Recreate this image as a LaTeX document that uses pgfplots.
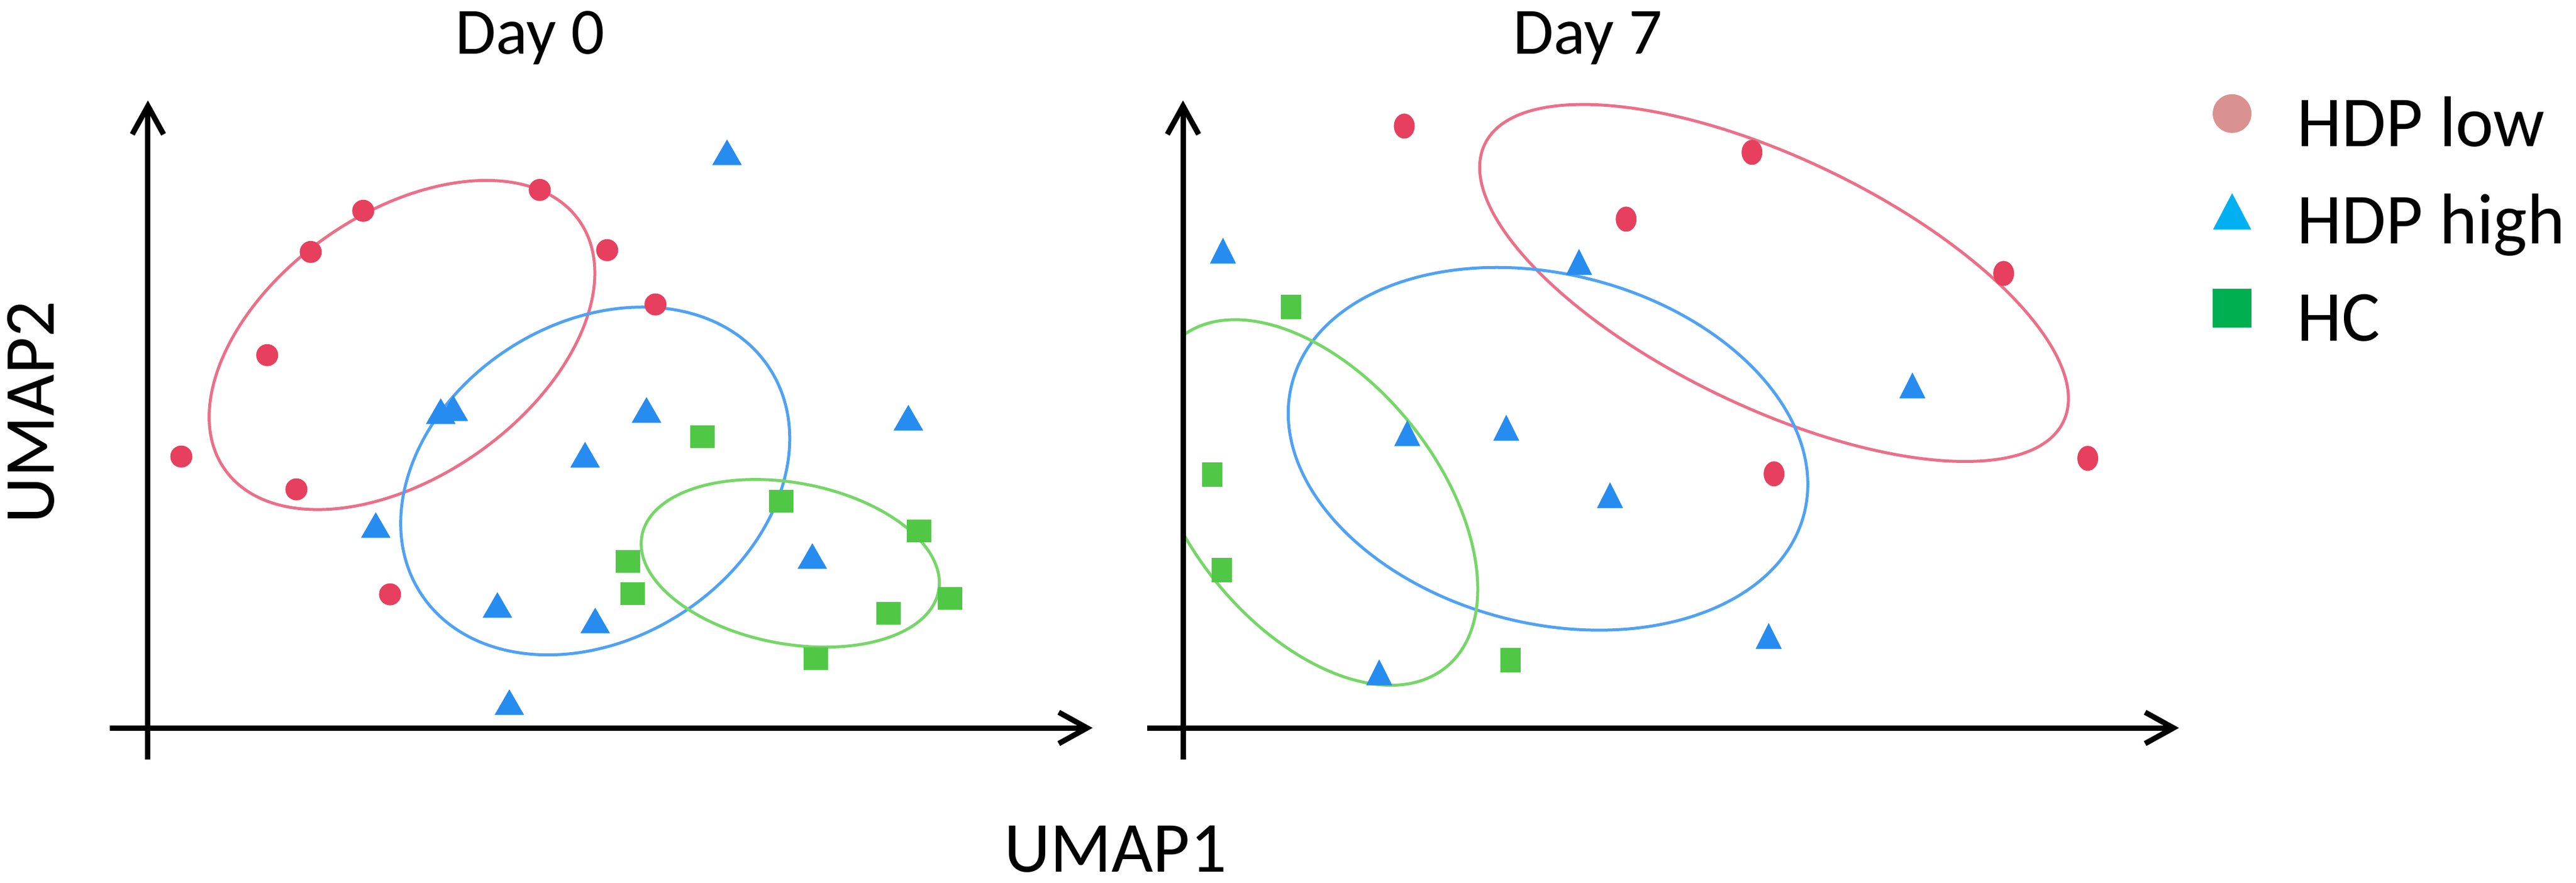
\documentclass[border=0pt]{standalone}
\usepackage{pgfplots}
\pgfplotsset{compat=1.18}
\usepackage{fontspec}
\setmainfont{Carlito}
\usetikzlibrary{arrows.meta}
\definecolor{redM}{RGB}{230,64,94}
\definecolor{blueM}{RGB}{38,140,240}
\definecolor{greenM}{RGB}{80,200,70}
\definecolor{redL}{RGB}{234,112,136}
\definecolor{blueL}{RGB}{80,162,242}
\definecolor{greenL}{RGB}{118,214,104}
\definecolor{legPink}{RGB}{218,145,145}
\definecolor{legCyan}{RGB}{0,176,240}
\definecolor{legGreen}{RGB}{0,176,80}
\tikzset{
  ax/.style={line width=0.36mm, -{Straight Barb[length=1.9mm,width=2.1mm,line width=0.36mm]}},
  ell/.style={line width=0.2mm},
}
\pgfplotsset{
  panel/.style={x=0.04mm, y=0.04mm, ymin=0, ymax=1479, hide axis, clip=false,
    anchor=south west},
}
\begin{document}
\begin{tikzpicture}
\path[use as bounding box] (0,0) rectangle (172.72mm,59.16mm);
% ---------------- Day 0 ----------------
\begin{axis}[panel, at={(0,0)}, xmin=0, xmax=1900]
\draw[ell, redL, rotate around={35:(axis cs:674,901)}] (axis cs:674,901) ellipse [x radius=363, y radius=221];
\draw[ell, blueL, rotate around={32.6:(axis cs:998,673)}] (axis cs:998,673) ellipse [x radius=348, y radius=265];
\draw[ell, greenL, rotate around={-10.5:(axis cs:1325,535)}] (axis cs:1325,535) ellipse [x radius=253, y radius=135];
\draw[ax] (axis cs:248,206) -- (axis cs:248,1311);
\draw[ax] (axis cs:184,259) -- (axis cs:1832,259);
\addplot[only marks, mark=*, color=redM, mark size=0.72mm, mark options={line width=0.1pt}] coordinates {
(905,1161) (609,1126) (521,1057) (1018,1060) (1099,969) (448,884) (304,714) (497,659) (654,483)};
\addplot[only marks, mark=triangle*, color=blueM, mark size=1.11mm, mark options={line width=0.1pt}] coordinates {
(1219,1217) (739,783) (760,788) (1084,785) (981,710) (1523,772) (630,592) (1362,540) (834,458) (998,432) (854,295)};
\addplot[only marks, mark=square*, color=greenM, mark size=0.8mm, mark options={line width=0.1pt, yscale=0.92}] coordinates {
(1178,747) (1310,639) (1541,589) (1053,538) (1061,484) (1593,476) (1490,451) (1368,375)};
\node[anchor=base, font=\fontsize{12.6}{15}\selectfont] at (axis cs:889,1389) {Day 0};
\node[anchor=base, rotate=90, font=\fontsize{13.7}{16}\selectfont] at (axis cs:91,788) {UMAP2};
\node[anchor=base, inner sep=0pt, font=\fontsize{13.7}{16}\selectfont] at (axis cs:1870,18) {UMAP1};
\end{axis}
% ---------------- Day 7 ----------------
\begin{axis}[panel, at={(76mm,0)}, xmin=1900, xmax=4318,
  legend style={at={(0.74855,0.8952)}, anchor=north west, draw=none, fill=none,
    inner sep=0pt, outer sep=0pt, row sep=1.72mm, column sep=3.08mm,
    font=\fontsize{13.7}{16}\selectfont,
    nodes={inner sep=0pt, text height=3.6mm, text depth=1.2mm}},
  legend cell align=left,
  legend image code/.code={\draw[#1] plot coordinates {(0mm,1.0mm)};},
]
\draw[ell, redL, rotate around={-25.6:(axis cs:2974,1005)}] (axis cs:2974,1005) ellipse [x radius=538, y radius=209];
\draw[ell, blueL, rotate around={-14.1:(axis cs:2595,727)}] (axis cs:2595,727) ellipse [x radius=443, y radius=293];
\begin{scope}
\clip (axis cs:1983,0) rectangle (axis cs:4318,1479);
\draw[ell, greenL, rotate around={-51.2:(axis cs:2201,637)}] (axis cs:2201,637) ellipse [x radius=355, y radius=210];
\end{scope}
\draw[ax] (axis cs:1983,206) -- (axis cs:1983,1311);
\draw[ax] (axis cs:1923,259) -- (axis cs:3653,259);
\addplot[forget plot, only marks, mark=*, color=redM, mark size=0.82mm, mark options={line width=0.1pt, xscale=0.83}] coordinates {
(2354,1268) (2937,1224) (2726,1112) (3359,1021) (2974,685) (3500,711)};
\addplot[forget plot, only marks, mark=triangle*, color=blueM, mark size=1.12mm, mark options={line width=0.1pt, xscale=0.87}] coordinates {
(2050,1052) (2647,1033) (3206,826) (2359,746) (2525,755) (2699,642) (2965,406) (2312,345)};
\addplot[forget plot, only marks, mark=square*, color=greenM, mark size=0.8mm, mark options={line width=0.1pt, xscale=0.82}] coordinates {
(2164,965) (2032,684) (2048,524) (2532,373)};
\node[anchor=base, font=\fontsize{12.6}{15}\selectfont] at (axis cs:2662,1389) {Day 7};
\addlegendimage{only marks, mark=*, color=legPink, mark size=1.28mm, mark options={line width=0.1pt}}
\addlegendentry{HDP low}
\addlegendimage{only marks, mark=triangle*, color=legCyan, mark size=1.44mm, mark options={line width=0.1pt, yscale=1.1, yshift=-0.4mm}}
\addlegendentry{HDP high}
\addlegendimage{only marks, mark=square*, color=legGreen, mark size=1.28mm, mark options={line width=0.1pt}}
\addlegendentry{HC}
\end{axis}
\end{tikzpicture}
\end{document}
